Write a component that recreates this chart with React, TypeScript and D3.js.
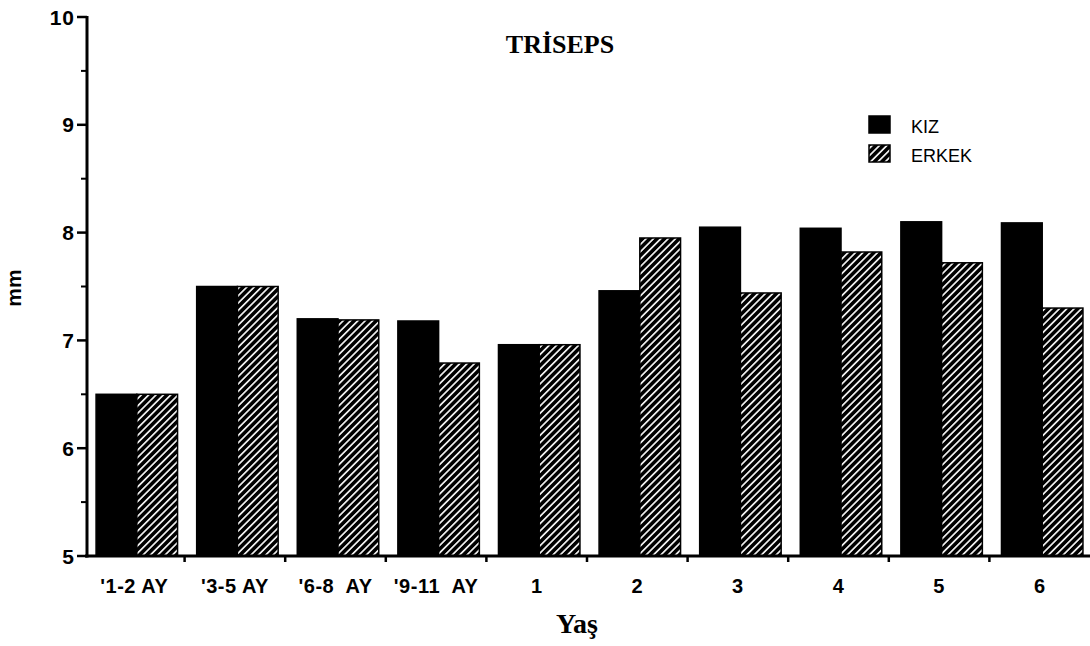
import React from 'react';
import * as d3 from 'd3';

const categories = ["'1-2 AY", "'3-5 AY", "'6-8  AY", "'9-11  AY", "1", "2", "3", "4", "5", "6"];
const seriesNames = ["KIZ", "ERKEK"];
const kizValues = [6.5, 7.5, 7.2, 7.18, 6.96, 7.46, 8.05, 8.04, 8.1, 8.09];
const erkekValues = [6.5, 7.5, 7.19, 6.79, 6.96, 7.95, 7.44, 7.82, 7.72, 7.3];
const yTicks = [5, 6, 7, 8, 9, 10];
const yMinorTicks = [5.5, 6.5, 7.5, 8.5, 9.5];
const titleText = "TRİSEPS";
const xTitle = "Yaş";
const yTitle = "mm";

const W = 1090;
const H = 646;

export default function App() {
  const x = d3.scaleBand<string>().domain(categories).range([84, 1090]).padding(0);
  const bw = x.bandwidth();
  const x1 = d3.scaleBand<string>().domain(seriesNames).range([0.12 * bw, 0.93 * bw]).padding(0);
  const y = d3.scaleLinear().domain([5, 10]).range([556, 17]);
  const axisX = 87;
  const base = y(5);
  const sans = "'Liberation Sans', Arial, sans-serif";
  const serif = "'Liberation Serif', 'Times New Roman', serif";

  const valuesBySeries: Record<string, number[]> = { KIZ: kizValues, ERKEK: erkekValues };

  return (
    <svg width={W} height={H} style={{ position: 'absolute', left: 0, top: 0, background: '#fff' }}>
      <defs>
        <pattern id="hatch" patternUnits="userSpaceOnUse" width={5.2} height={5.2} patternTransform="rotate(45)">
          <rect x={0} y={0} width={5.2} height={5.2} fill="#000" />
          <line x1={2.6} y1={0} x2={2.6} y2={5.2} stroke="#fff" strokeWidth={1.6} />
        </pattern>
      </defs>
      <rect x={0} y={0} width={W} height={H} fill="#fff" />

      {/* bars */}
      {categories.map((c, i) => (
        <g key={c} transform={`translate(${x(c)},0)`}>
          {seriesNames.map((s) => {
            const v = valuesBySeries[s][i];
            return (
              <rect
                key={s}
                x={x1(s)}
                y={y(v)}
                width={x1.bandwidth()}
                height={base - y(v)}
                fill={s === 'KIZ' ? '#000' : 'url(#hatch)'}
                stroke="#000"
                strokeWidth={1.5}
              />
            );
          })}
        </g>
      ))}

      {/* y axis */}
      <line x1={axisX} y1={y(10) - 1} x2={axisX} y2={base + 1.5} stroke="#000" strokeWidth={3} />
      {yTicks.map((t) => (
        <g key={t}>
          <line x1={axisX - 10} y1={y(t)} x2={axisX} y2={y(t)} stroke="#000" strokeWidth={2.5} />
          <text
            x={axisX - 12}
            y={y(t)}
            dy="0.36em"
            textAnchor="end"
            fontFamily={sans}
            fontWeight="bold"
            fontSize={21}
            letterSpacing={1}
          >
            {t}
          </text>
        </g>
      ))}
      {yMinorTicks.map((t) => (
        <line key={t} x1={axisX - 6} y1={y(t)} x2={axisX} y2={y(t)} stroke="#000" strokeWidth={2} />
      ))}

      {/* x axis */}
      <line x1={axisX - 2} y1={base} x2={1090} y2={base} stroke="#000" strokeWidth={3} />
      {categories.slice(1).map((c) => (
        <line key={c} x1={x(c)} y1={base} x2={x(c)} y2={base + 6} stroke="#000" strokeWidth={2.5} />
      ))}
      {categories.map((c) => (
        <text
          key={c}
          x={(x(c) as number) + bw / 2}
          y={593}
          textAnchor="middle"
          fontFamily={sans}
          fontWeight="bold"
          fontSize={20}
          letterSpacing={0.5}
          style={{ whiteSpace: 'pre' }}
        >
          {c}
        </text>
      ))}

      {/* titles */}
      <text x={560} y={53} textAnchor="middle" fontFamily={serif} fontWeight="bold" fontSize={26}>
        {titleText}
      </text>
      <text x={577} y={633} textAnchor="middle" fontFamily={serif} fontWeight="bold" fontSize={28}>
        {xTitle}
      </text>
      <text
        transform={`translate(21,288) rotate(-90)`}
        textAnchor="middle"
        fontFamily={sans}
        fontWeight="bold"
        fontSize={21}
      >
        {yTitle}
      </text>

      {/* legend */}
      {seriesNames.map((s, i) => (
        <g key={s} transform={`translate(869,${116 + i * 29})`}>
          <rect x={0} y={0} width={21} height={17} fill={s === 'KIZ' ? '#000' : 'url(#hatch)'} stroke="#000" strokeWidth={1.5} />
          <text x={42} y={17} fontFamily={sans} fontSize={18}>
            {s}
          </text>
        </g>
      ))}
    </svg>
  );
}
